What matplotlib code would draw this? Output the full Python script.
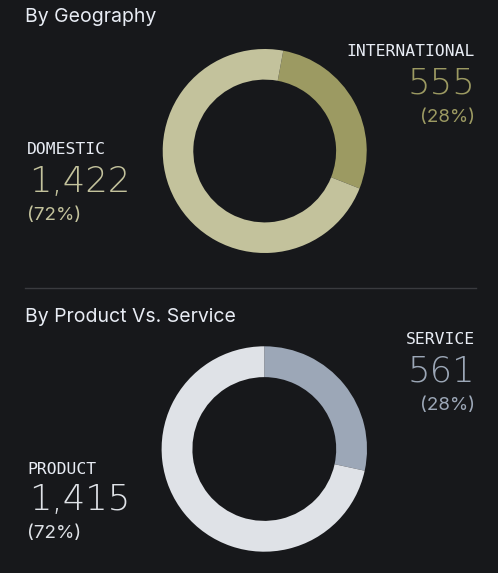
import matplotlib
matplotlib.use("Agg")
import matplotlib.pyplot as plt
from matplotlib.lines import Line2D

# ---- data ----
geo_titles = "By Geography"
geo_categories = ["INTERNATIONAL", "DOMESTIC"]
geo_values = [555, 1422]
geo_pcts = ["(28%)", "(72%)"]

ps_titles = "By Product Vs. Service"
ps_categories = ["SERVICE", "PRODUCT"]
ps_values = [561, 1415]
ps_pcts = ["(28%)", "(72%)"]

geo_colors = ["#9c9a62", "#c3c29c"]
ps_colors = ["#9ca7b7", "#dfe2e7"]

BG = "#17181b"
LABEL = "#e8ecf4"

W, H = 498, 573
fig = plt.figure(figsize=(W / 100, H / 100), dpi=100, facecolor=BG)


def fx(x):
    return x / W


def fy(y):
    return 1 - y / H


def donut(cx, cy, r, values, colors, startangle):
    ax = fig.add_axes([fx(cx - r), fy(cy + r), 2 * r / W, 2 * r / H])
    ax.set_facecolor(BG)
    ax.pie(values, colors=colors, startangle=startangle, counterclock=False,
           radius=1, wedgeprops=dict(width=0.30, linewidth=0))
    ax.set_xlim(-1, 1)
    ax.set_ylim(-1, 1)
    ax.set_aspect("auto")
    ax.axis("off")


def fmt(v):
    return f"{v:,}"


TITLE_FONT = dict(family="Inter", size=14, color=LABEL)
CAT_FONT = dict(family="DejaVu Sans Mono", size=11.8, color=LABEL)
NUM_FONT = dict(family="DejaVu Sans", size=25.5, weight=200)
PCT_FONT = dict(family="Inter", size=13.5)


def block(x, ycat, ynum, ypct, ha, cat, val, pct, color):
    fig.text(fx(x), fy(ycat), cat, ha=ha, va="center", **CAT_FONT)
    fig.text(fx(x + (2 if ha == "left" else 0)), fy(ynum), fmt(val), ha=ha,
             va="center", color=color, **NUM_FONT)
    fig.text(fx(x), fy(ypct), pct, ha=ha, va="center", color=color, **PCT_FONT)


# ---- Top panel ----
fig.text(fx(25), fy(17.5), geo_titles, ha="left", va="center", **TITLE_FONT)
donut(264.7, 151, 102, geo_values, geo_colors, 90 - 10.5)
block(475, 52, 84, 117, "right", geo_categories[0], geo_values[0], geo_pcts[0], geo_colors[0])
block(27, 150, 182, 215, "left", geo_categories[1], geo_values[1], geo_pcts[1], geo_colors[1])

# separator
fig.add_artist(Line2D([fx(25), fx(476)], [fy(288), fy(288)], color="#3a3b3f", lw=1))

# ---- Bottom panel ----
fig.text(fx(25), fy(316.5), ps_titles, ha="left", va="center", **TITLE_FONT)
donut(264.3, 449, 102.7, ps_values, ps_colors, 90)
block(475, 339, 372, 405, "right", ps_categories[0], ps_values[0], ps_pcts[0], ps_colors[0])
block(27, 469, 500, 533.5, "left", ps_categories[1], ps_values[1], ps_pcts[1], ps_colors[1])

fig.savefig("out.png", dpi=100, facecolor=BG)
